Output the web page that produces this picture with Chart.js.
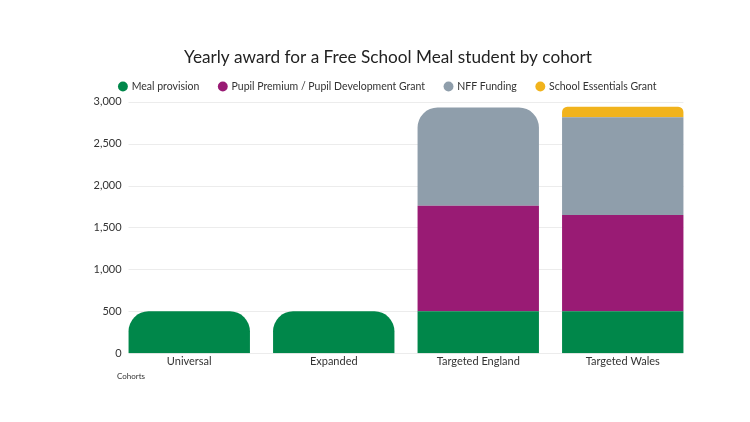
<!DOCTYPE html>
<html>
<head>
<meta charset="utf-8">
<script src="https://cdn.jsdelivr.net/npm/chart.js@4/dist/chart.umd.min.js"></script>
<style>
  html, body { margin: 0; padding: 0; background: #fff; }
  #wrap { width: 750px; height: 422px; }
</style>
</head>
<body>
<div id="wrap"><canvas id="cohortChart"></canvas></div>
<script>
// data
const cohorts = ['Universal', 'Expanded', 'Targeted England', 'Targeted Wales'];
const mealProvision = [500, 500, 500, 500];
const pupilPremium = [0, 0, 1260, 1150];
const nffFunding = [0, 0, 1170, 1165];
const essentialsGrant = [0, 0, 0, 125];
const yTicks = [0, 500, 1000, 1500, 2000, 2500, 3000];

const seriesNames = ['Meal provision', 'Pupil Premium / Pupil Development Grant', 'NFF Funding', 'School Essentials Grant'];
const seriesColors = ['#00874a', '#991b74', '#8f9eab', '#f1b31c'];
const allSeries = [mealProvision, pupilPremium, nffFunding, essentialsGrant];

// round only the top segment of each stack
function topRadius(ctx) {
    const i = ctx.dataIndex;
    const d = ctx.datasetIndex;
    for (let k = d + 1; k < allSeries.length; k++) {
        if (allSeries[k][i] > 0) return 0;
    }
    return { topLeft: 20, topRight: 20, bottomLeft: 0, bottomRight: 0 };
}

const datasets = allSeries.map((vals, k) => ({
    label: seriesNames[k],
    data: vals,
    backgroundColor: seriesColors[k],
    borderWidth: 0,
    borderRadius: topRadius,
    borderSkipped: false,
    barPercentage: 0.84,
    categoryPercentage: 1
}));

// gridlines only span the bars, and y labels sit just left of the first bar
const gridAndLabels = {
    id: 'gridAndLabels',
    beforeDatasetsDraw(chart) {
        const y = chart.scales.y;
        const bars = chart.getDatasetMeta(0).data;
        const first = bars[0], last = bars[bars.length - 1];
        const left = first.x - first.width / 2;
        const right = last.x + last.width / 2;
        const c = chart.ctx;
        c.save();
        c.strokeStyle = '#ececec';
        c.lineWidth = 1;
        yTicks.forEach(v => {
            const py = Math.round(y.getPixelForValue(v)) + 0.5;
            c.beginPath();
            c.moveTo(left, py);
            c.lineTo(right, py);
            c.stroke();
        });
        c.restore();
    },
    afterDraw(chart) {
        const y = chart.scales.y;
        const first = chart.getDatasetMeta(0).data[0];
        const left = first.x - first.width / 2;
        const c = chart.ctx;
        c.save();
        c.fillStyle = '#333';
        c.font = '11px Lato';
        c.textAlign = 'right';
        c.textBaseline = 'middle';
        yTicks.forEach(v => {
            c.fillText(v.toLocaleString('en-GB'), left - 7, y.getPixelForValue(v));
        });
        c.restore();
    }
};

const ctx = document.getElementById('cohortChart').getContext('2d');
new Chart(ctx, {
    type: 'bar',
    data: { labels: cohorts, datasets: datasets },
    plugins: [gridAndLabels],
    options: {
        responsive: true,
        maintainAspectRatio: false,
        animation: false,
        layout: { padding: { top: 49, left: 81, right: 55, bottom: 41 } },
        plugins: {
            title: {
                display: true,
                text: 'Yearly award for a Free School Meal student by cohort',
                color: '#222',
                font: { family: 'Lato', size: 17.2, weight: 'normal', lineHeight: 1 },
                padding: { top: 0, bottom: -5 }
            },
            legend: {
                labels: {
                    usePointStyle: true,
                    pointStyle: 'circle',
                    boxWidth: 7,
                    boxHeight: 7,
                    padding: 20,
                    color: '#333',
                    font: { family: 'Lato', size: 10.5 }
                }
            },
            tooltip: { enabled: false }
        },
        scales: {
            x: {
                stacked: true,
                grid: { display: false, drawTicks: false },
                border: { display: false },
                ticks: { color: '#333', font: { family: 'Lato', size: 11 }, padding: 2 },
                title: {
                    display: true,
                    text: 'Cohorts',
                    align: 'start',
                    color: '#333',
                    font: { family: 'Lato', size: 8 },
                    padding: { top: 1, bottom: 0 }
                }
            },
            y: {
                stacked: true,
                min: 0,
                max: 3000,
                afterBuildTicks: (axis) => { axis.ticks = yTicks.map(v => ({ value: v })); },
                afterFit: (axis) => { axis.width = 36; },
                grid: { display: false, drawTicks: false },
                border: { display: false },
                ticks: { display: false }
            }
        }
    }
});
</script>
</body>
</html>
